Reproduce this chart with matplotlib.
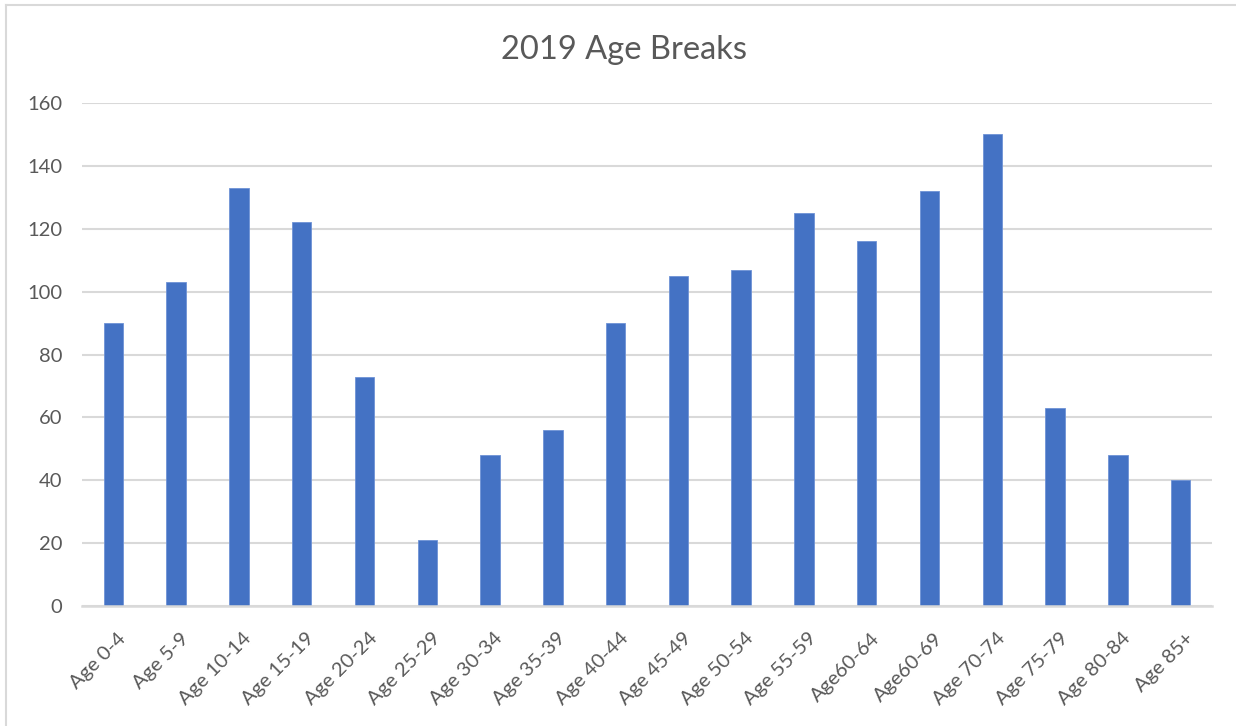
import matplotlib
matplotlib.use("Agg")
import matplotlib.pyplot as plt
from matplotlib.lines import Line2D
from matplotlib.transforms import ScaledTranslation

# Population counts by age band, 2019
categories = ["Age 0-4", "Age 5-9", "Age 10-14", "Age 15-19", "Age 20-24",
              "Age 25-29", "Age 30-34", "Age 35-39", "Age 40-44", "Age 45-49",
              "Age 50-54", "Age 55-59", "Age60-64", "Age60-69", "Age 70-74",
              "Age 75-79", "Age 80-84", "Age 85+"]
counts = [90, 103, 133, 122, 73, 21, 48, 56, 90, 105,
          107, 125, 116, 132, 150, 63, 48, 40]
y_ticks = [0, 20, 40, 60, 80, 100, 120, 140, 160]
title = "2019 Age Breaks"

plt.rcParams["font.family"] = ["Lato", "DejaVu Sans"]

W, H, DPI = 1236, 726, 100
fig = plt.figure(figsize=(W / DPI, H / DPI), dpi=DPI)
fig.patch.set_facecolor("white")

# plot area in pixel coordinates
left, right, top, bottom = 82, 1212, 103, 606
ax = fig.add_axes([left / W, 1 - bottom / H, (right - left) / W, (bottom - top) / H])

x = range(len(categories))
ax.bar(x, counts, width=0.31, color="#4472C4", edgecolor="#6E92D6",
       linewidth=0.6, zorder=3)

ax.set_xlim(-0.5, len(categories) - 0.5)
ax.set_ylim(0, 160)
ax.set_yticks(y_ticks)
ax.grid(axis="y", color="#D9D9D9", linewidth=1.5, zorder=0)
ax.set_axisbelow(True)

for side in ("top", "right", "left"):
    ax.spines[side].set_visible(False)
ax.spines["bottom"].set_color("#D9D9D9")
ax.spines["bottom"].set_linewidth(1.8)
ax.spines["bottom"].set_zorder(4)

ax.tick_params(axis="both", length=0, labelsize=14.5, labelcolor="#595959")
ax.tick_params(axis="y", pad=14)
ax.tick_params(axis="x", pad=17)
ax.set_xticks(list(x))
ax.set_xticklabels(categories, rotation=45, ha="right", va="top",
                   rotation_mode="anchor")
shift = ScaledTranslation(4 / DPI, 0, fig.dpi_scale_trans)
for lbl in ax.get_xticklabels():
    lbl.set_transform(lbl.get_transform() + shift)

fig.text(624 / W, 1 - 50 / H, title, ha="center", va="center",
         fontsize=23.5, color="#595959")

# chart frame lines
fig.add_artist(Line2D([6 / W, 6 / W], [0, 1 - 5 / H], transform=fig.transFigure,
                      color="#D9D9D9", linewidth=1.5))
fig.add_artist(Line2D([6 / W, 1], [1 - 5 / H, 1 - 5 / H], transform=fig.transFigure,
                      color="#D9D9D9", linewidth=1.5))

fig.savefig("out.png", dpi=DPI)
